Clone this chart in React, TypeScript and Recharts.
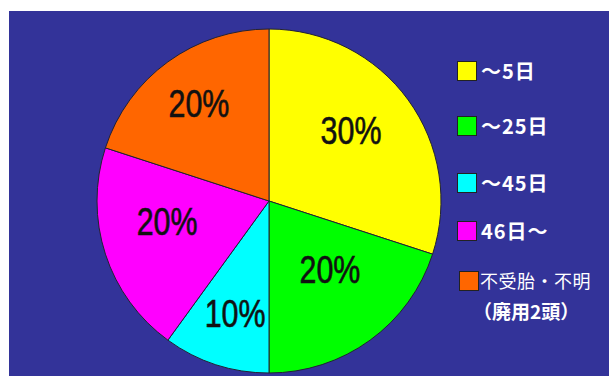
import React from "react";
import { PieChart, Pie, Cell, Legend } from "recharts";

// Share of cows by days to conception
const categories = ["～5日", "～25日", "～45日", "46日～", "不受胎・不明"];
const shares = [30, 20, 10, 20, 20];
const colors = ["#FFFF00", "#00FF00", "#00FFFF", "#FF00FF", "#FF6600"];
const legendNote = "（廃用2頭）";

const data = categories.map((name, i) => ({ name, value: shares[i] }));

// label placement: radius as a fraction of the outer radius, and angle nudge in degrees
const labelRadius = [0.627, 0.535, 0.686, 0.605, 0.698];
const labelAngleNudge = [4.5, 5.5, 1.3, -6.4, -0.3];
// vertical position of each legend row
const legendRowTop = [61, 116, 173, 221, 271];

const RAD = Math.PI / 180;

const renderLabel = (props: any) => {
  const { cx, cy, midAngle, outerRadius, index, value } = props;
  const r = outerRadius * labelRadius[index];
  const a = (midAngle + labelAngleNudge[index]) * RAD;
  const x = cx + r * Math.cos(a);
  const y = cy - r * Math.sin(a);
  // tall, narrow percentage figures
  return (
    <g transform={`translate(${x},${y}) scale(0.8,1)`}>
      <text
        x={0}
        y={0}
        textAnchor="middle"
        dominantBaseline="central"
        fill="#111111"
        stroke="#111111"
        strokeWidth={0.6}
        style={{
          fontFamily: "'Liberation Sans', Arial, sans-serif",
          fontSize: 38,
        }}
      >
        {`${value}%`}
      </text>
    </g>
  );
};

const LegendContent = () => (
  <div style={{ position: "relative", width: 609, height: 376 }}>
    {categories.map((name, i) => {
      const last = i === categories.length - 1;
      return (
        <div
          key={name}
          style={{
            position: "absolute",
            left: last ? 459 : 457,
            top: legendRowTop[i],
            display: "flex",
            alignItems: "center",
            height: 19,
            whiteSpace: "nowrap",
          }}
        >
          <span
            style={{
              display: "inline-block",
              width: 18,
              height: 18,
              background: colors[i],
              border: "1px solid #222",
              marginRight: last ? 1 : 4,
            }}
          />
          <span
            style={{
              color: "#FFFFFF",
              fontFamily: "'Noto Sans CJK JP', sans-serif",
              fontWeight: last ? 400 : 700,
              fontSize: last ? 18 : 20,
              lineHeight: "19px",
              letterSpacing: last ? 0.5 : 1,
            }}
          >
            {name}
          </span>
        </div>
      );
    })}
    <div
      style={{
        position: "absolute",
        left: 473,
        top: 300,
        color: "#FFFFFF",
        fontFamily: "'Noto Sans CJK JP', sans-serif",
        fontWeight: 700,
        fontSize: 19,
        lineHeight: "22px",
        whiteSpace: "nowrap",
      }}
    >
      {legendNote}
    </div>
  </div>
);

export default function App() {
  return (
    <div
      style={{
        position: "absolute",
        left: 0,
        top: 0,
        width: 609,
        height: 376,
        background: "#FFFFFF",
        overflow: "hidden",
      }}
    >
      <div
        style={{
          position: "absolute",
          left: 9,
          top: 11,
          width: 600,
          height: 365,
          background: "#333399",
        }}
      />
      <div style={{ position: "absolute", left: 0, top: 0 }}>
        <PieChart width={609} height={376} margin={{ top: 0, right: 0, bottom: 0, left: 0 }}>
          <Pie
            data={data}
            dataKey="value"
            nameKey="name"
            cx={269}
            cy={201}
            outerRadius={172}
            startAngle={90}
            endAngle={-270}
            stroke="#222233"
            strokeWidth={1}
            label={renderLabel}
            labelLine={false}
            isAnimationActive={false}
          >
            {data.map((d, i) => (
              <Cell key={d.name} fill={colors[i]} />
            ))}
          </Pie>
          <Legend
            content={<LegendContent />}
            wrapperStyle={{ position: "absolute", left: 0, top: 0, width: 609, height: 376 }}
          />
        </PieChart>
      </div>
    </div>
  );
}
